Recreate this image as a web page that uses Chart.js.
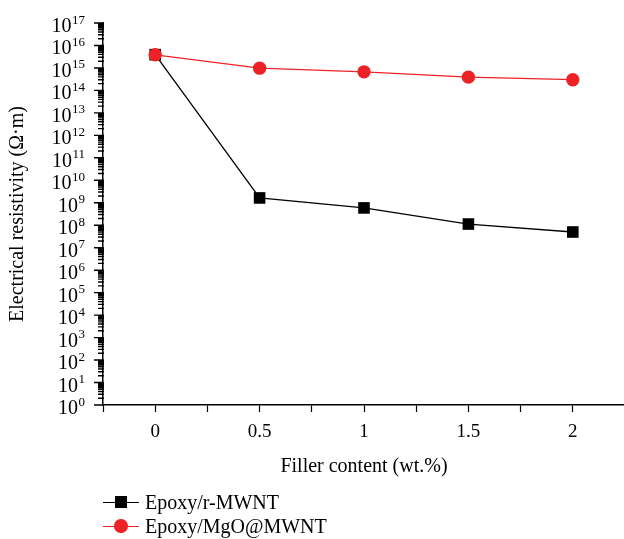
<!DOCTYPE html>
<html lang="en">
<head>
  <meta charset="UTF-8" />
  <title>Electrical resistivity vs filler content</title>
  <script src="https://cdn.jsdelivr.net/npm/chart.js"></script>
  <style>
    html, body { margin: 0; padding: 0; background: #fff; }
    body { width: 624px; height: 539px; overflow: hidden; }
    .wrap { position: relative; width: 625px; height: 539px; }
    #chart { display: block; }
    .legend {
      position: absolute; left: 103px; top: 490px;
      font-family: 'Liberation Serif', 'DejaVu Serif', serif;
      font-size: 20px; color: #000;
    }
    .legend .row { height: 24px; display: flex; align-items: center; }
    .legend .key { position: relative; width: 36px; height: 24px; margin-right: 6px; }
    .legend .key .line { position: absolute; left: 0; right: 0; top: 11.5px; height: 1.3px; }
    .legend .key .mark { position: absolute; }
  </style>
</head>
<body>
  <div class="wrap">
    <canvas id="chart" width="625" height="539"></canvas>
    <div class="legend" id="legend"></div>
  </div>

  <script>
    // data
    const fillerContent = [0, 0.5, 1, 1.5, 2];
    const rMWNT = [3.9e15, 1.64e9, 5.9e8, 1.13e8, 5.0e7];
    const mgoMWNT = [3.85e15, 9.8e14, 6.7e14, 3.9e14, 3.0e14];
    const seriesNames = ['Epoxy/r-MWNT', 'Epoxy/MgO@MWNT'];
    const xTickLabels = ['0', '0.5', '1', '1.5', '2'];
    const yExponents = [0, 1, 2, 3, 4, 5, 6, 7, 8, 9, 10, 11, 12, 13, 14, 15, 16, 17];

    const RED = '#ed2227';
    const SERIF = "'Liberation Serif', 'DejaVu Serif', serif";

    // y axis: tick marks (long at decades, short in between) and 10^n labels
    const logAxis = {
      id: 'logAxis',
      afterDraw(chart) {
        const y = chart.scales.y;
        const ctx = chart.ctx;
        const x0 = chart.chartArea.left;
        const last = yExponents[yExponents.length - 1];
        ctx.save();
        ctx.strokeStyle = '#000';
        ctx.lineWidth = 1.4;
        ctx.beginPath();
        for (let e = yExponents[0]; e <= last; e++) {
          const py = y.getPixelForValue(Math.pow(10, e));
          ctx.moveTo(x0 + 1, py);
          ctx.lineTo(x0 - 9, py);
          if (e === last) break;
          for (let m = 2; m <= 9; m++) {
            const my = y.getPixelForValue(m * Math.pow(10, e));
            ctx.moveTo(x0 + 1, my);
            ctx.lineTo(x0 - 5, my);
          }
        }
        ctx.stroke();

        ctx.fillStyle = '#000';
        ctx.textAlign = 'right';
        ctx.textBaseline = 'alphabetic';
        const right = x0 - 18;
        yExponents.forEach(e => {
          const py = y.getPixelForValue(Math.pow(10, e));
          ctx.font = '13px ' + SERIF;
          const ex = String(e);
          const w = ctx.measureText(ex).width;
          ctx.fillText(ex, right, py + 0.5);
          ctx.font = '20px ' + SERIF;
          ctx.fillText('10', right - w - 0.5, py + 9);
        });
        ctx.restore();
      }
    };

    const toPoints = vals => vals.map((v, i) => ({ x: fillerContent[i], y: v }));

    new Chart(document.getElementById('chart'), {
      type: 'line',
      data: {
        datasets: [
          {
            label: seriesNames[0],
            data: toPoints(rMWNT),
            borderColor: '#000',
            backgroundColor: '#000',
            borderWidth: 1.3,
            pointStyle: 'rect',
            pointRadius: 8.2,
            pointBorderWidth: 0,
            tension: 0,
            order: 2
          },
          {
            label: seriesNames[1],
            data: toPoints(mgoMWNT),
            borderColor: RED,
            backgroundColor: RED,
            borderWidth: 1.3,
            pointStyle: 'circle',
            pointRadius: 6.7,
            pointBorderWidth: 0,
            tension: 0,
            order: 1
          }
        ]
      },
      options: {
        responsive: false,
        animation: false,
        layout: { autoPadding: false, padding: { top: 23, right: 0, bottom: 54, left: 0 } },
        plugins: {
          legend: { display: false },
          tooltip: { enabled: false }
        },
        scales: {
          x: {
            type: 'linear',
            min: -0.25,
            max: 2.25,
            afterBuildTicks: scale => {
              const t = [];
              for (let v = -0.25; v <= 2.2501; v += 0.25) t.push({ value: Math.round(v * 100) / 100 });
              scale.ticks = t;
            },
            afterFit: scale => {
              scale.height = 80;
              scale.paddingLeft = 0;
              scale.paddingRight = 0;
            },
            border: { color: '#000', width: 1.5 },
            grid: { drawOnChartArea: false, tickLength: 7, tickColor: '#000', tickWidth: 1.2 },
            ticks: {
              color: '#000',
              font: { family: SERIF, size: 19 },
              padding: 9,
              maxRotation: 0,
              autoSkip: false,
              callback: v => {
                const i = fillerContent.indexOf(v);
                return i >= 0 ? xTickLabels[i] : '';
              }
            },
            title: {
              display: true,
              text: 'Filler content (wt.%)',
              color: '#000',
              font: { family: SERIF, size: 20 },
              padding: { top: 0, bottom: 6 }
            }
          },
          y: {
            type: 'logarithmic',
            min: Math.pow(10, yExponents[0]),
            max: Math.pow(10, yExponents[yExponents.length - 1]),
            afterBuildTicks: scale => {
              scale.ticks = yExponents.map(e => ({ value: Math.pow(10, e) }));
            },
            afterFit: scale => {
              scale.width = 103;
              scale.paddingTop = 0;
              scale.paddingBottom = 0;
            },
            border: { color: '#000', width: 1.5 },
            grid: { drawOnChartArea: false, drawTicks: false },
            ticks: { display: false },
            title: {
              display: true,
              text: 'Electrical resistivity (Ω·m)',
              color: '#000',
              font: { family: SERIF, size: 20 },
              padding: { top: 6, bottom: 0 }
            }
          }
        }
      },
      plugins: [logAxis]
    });

    // legend below the plot: line with marker, then the series name
    const legend = document.getElementById('legend');
    const styles = [
      { color: '#000', mark: 'width:11.6px;height:11.6px;left:12.2px;top:6.2px;background:#000;' },
      { color: RED, mark: 'width:13.4px;height:13.4px;left:11.3px;top:5.3px;border-radius:50%;background:' + RED + ';' }
    ];
    seriesNames.forEach((name, i) => {
      const row = document.createElement('div');
      row.className = 'row';
      row.innerHTML = '<span class="key"><span class="line" style="background:' + styles[i].color + '"></span>' +
        '<span class="mark" style="' + styles[i].mark + '"></span></span><span>' + name + '</span>';
      legend.appendChild(row);
    });
  </script>
</body>
</html>
